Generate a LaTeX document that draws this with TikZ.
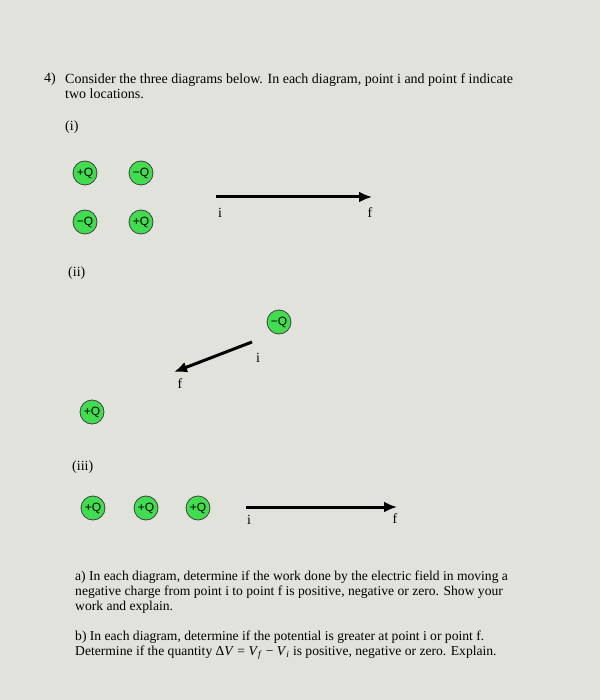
\documentclass[tikz,border=0pt]{standalone}
\usepackage{fontspec}
\setmainfont{Liberation Serif}
\setsansfont{Liberation Sans}
\usetikzlibrary{arrows.meta, positioning}

\definecolor{paper}{RGB}{226,226,221}
\definecolor{chargegreen}{RGB}{66,220,80}

\begin{document}
\begin{tikzpicture}[
    x=1pt, y=-1pt,
    font=\fontsize{14}{15}\selectfont,
    charge/.style={circle, draw=black!75, line width=0.8pt, fill=chargegreen, minimum size=24pt, inner sep=0pt, font=\sffamily\fontsize{12}{12}\selectfont},
    field/.style={-{Latex[length=13pt, width=11pt]}, line width=3pt},
    point_label/.style={inner sep=0pt},
    part_label/.style={anchor=base west, inner sep=0pt},
    question/.style={anchor=north west, inner sep=0pt, align=left},
    answer/.style={question, font=\fontsize{13.6}{15}\selectfont}
]

% Paper
\fill[paper] (0,0) rectangle (600,700);
\useasboundingbox (0,0) rectangle (600,700);

% Question header
\node[part_label] (num) at (44,83) {4)};
\node[question] (intro) at (65,73.5) {Consider the three diagrams below. In each diagram, point i and point f indicate\\two locations.};

% Diagram (i)
\node[part_label] (lab1) at (65,131) {(i)};
\foreach \x/\y/\q/\name in {85/173/+Q/qa, 141/173/−Q/qb, 85/222/−Q/qc, 141/222/+Q/qd}
    \node[charge] (\name) at (\x,\y) {\q};

\coordinate (i1) at (216,197);
\coordinate (f1) at (372,197);
\draw[field] (i1) -- (f1);
\node[point_label, below=11pt of i1, xshift=4pt] (li1) {i};
\node[point_label, below=10pt of f1, xshift=-2pt] (lf1) {f};

% Diagram (ii)
\node[part_label] (lab2) at (68,276) {(ii)};
\node[charge] (qe) at (279,322) {−Q};
\node[charge] (qf) at (92,412) {+Q};

\coordinate (i2) at (252,342);
\coordinate (f2) at (174,372);
\draw[field] (i2) -- (f2);
\node[point_label, below=11pt of i2, xshift=6pt] (li2) {i};
\node[point_label, below=6pt of f2, xshift=6pt] (lf2) {f};

% Diagram (iii)
\node[part_label] (lab3) at (72,470) {(iii)};
\foreach \x [count=\k] in {93, 146, 198}
    \node[charge] (qg\k) at (\x,508) {+Q};

\coordinate (i3) at (246,507);
\coordinate (f3) at (397,507);
\draw[field] (i3) -- (f3);
\node[point_label, below=8pt of i3, xshift=3pt] (li3) {i};
\node[point_label, below=6pt of f3, xshift=-2pt] (lf3) {f};

% Parts a) and b)
\node[answer] (parta) at (75,570.5) {a) In each diagram, determine if the work done by the electric field in moving a\\negative charge from point i to point f is positive, negative or zero. Show your\\work and explain.};
\node[answer] (partb) at (75,630.5) {b) In each diagram, determine if the potential is greater at point i or point f.\\Determine if the quantity Δ\textit{V} = \textit{V}\textsubscript{\textit{f}} − \textit{V}\textsubscript{\textit{i}} is positive, negative or zero. Explain.};

\end{tikzpicture}
\end{document}
